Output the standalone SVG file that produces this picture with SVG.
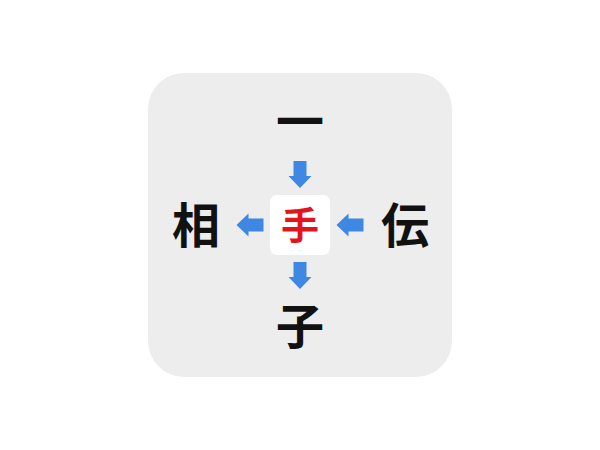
<svg xmlns="http://www.w3.org/2000/svg" width="600" height="450" viewBox="0 0 600 450">
  <defs>
    <style>
      .ch { font-family: "Noto Sans CJK JP", "Noto Sans CJK SC", sans-serif; font-weight: bold; font-size: 48px; fill: #111111; text-anchor: middle; }
      .center { font-family: "Noto Sans CJK JP", "Noto Sans CJK SC", sans-serif; font-weight: bold; font-size: 38px; fill: #e3141c; text-anchor: middle; }
      .arrow { fill: #3e87e2; }
    </style>
    <path id="arrowDown" d="M -6.5 -13 L 6.5 -13 L 6.5 2 L 11.5 2 L 0 14 L -11.5 2 L -6.5 2 Z"/>
  </defs>
  <rect x="0" y="0" width="600" height="450" fill="#ffffff"/>
  <rect id="panel" x="148" y="73" width="304" height="304" rx="36" ry="36" fill="#ededed"/>
  <g id="node-center">
    <rect x="270" y="195" width="60" height="60" rx="7" ry="7" fill="#ffffff"/>
    <text class="center" x="300" y="239">手</text>
  </g>
  <g id="node-top"><text class="ch" x="300" y="139">一</text></g>
  <g id="node-left"><text class="ch" x="196" y="243">相</text></g>
  <g id="node-right"><text class="ch" x="405" y="243">伝</text></g>
  <g id="node-bottom"><text class="ch" x="300" y="344">子</text></g>
  <g id="connectors" class="arrow">
    <use href="#arrowDown" transform="translate(300,174)"/>
    <use href="#arrowDown" transform="translate(300,275)"/>
    <use href="#arrowDown" transform="translate(250.5,225) rotate(90)"/>
    <use href="#arrowDown" transform="translate(350.5,225) rotate(90)"/>
  </g>
</svg>
